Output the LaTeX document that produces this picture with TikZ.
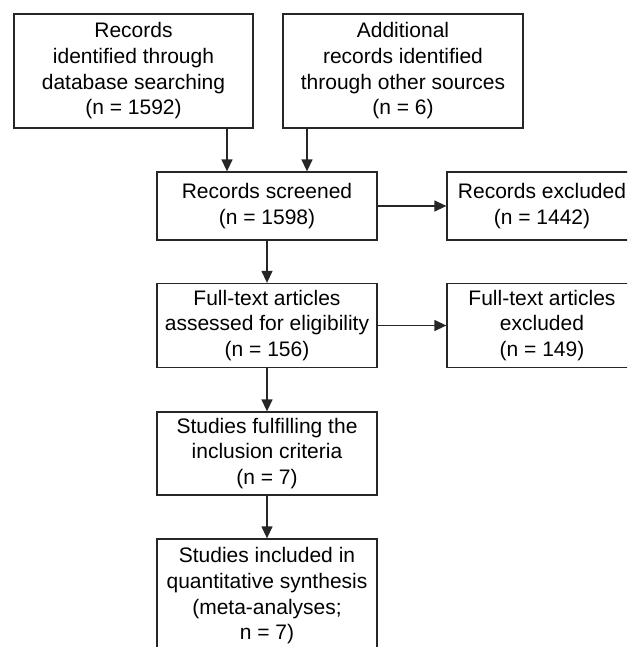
\documentclass[tikz,border=0pt]{standalone}
\usepackage{fontspec}
\setmainfont{Liberation Sans}
\usetikzlibrary{arrows.meta}

\begin{document}
\begin{tikzpicture}[x=0.5pt, y=-0.5pt,
    box/.style={draw=black!85, line width=0.65pt, align=center, inner sep=0pt,
        font=\fontsize{10.5}{12.85}\selectfont},
    arr/.style={draw=black!85, line width=0.65pt, -{Triangle[length=6pt,width=5.5pt]}}]
    \useasboundingbox (0,0) rectangle (627,647);
    \clip (0,0) rectangle (627,647);
    % identification
    \node[box, minimum width=119.5pt, minimum height=57pt] (recdb) at (133.5,71)
        {Records\\identified through\\database searching\\(n = 1592)};
    \node[box, minimum width=120pt, minimum height=57pt] (recother) at (403,71)
        {Additional\\records identified\\through other sources\\(n = 6)};
    % screening
    \node[box, minimum width=110pt, minimum height=34pt] (screened) at (267,206)
        {Records screened\\(n = 1598)};
    \node[box, minimum width=95pt, minimum height=34pt] (recexcl) at (542,206)
        {Records excluded\\(n = 1442)};
    % eligibility
    \node[box, minimum width=110pt, minimum height=42pt] (fulltext) at (267,325.5)
        {Full-text articles\\assessed for eligibility\\(n = 156)};
    \node[box, minimum width=95pt, minimum height=42pt] (ftexcl) at (542,325.5)
        {Full-text articles\\excluded\\(n = 149)};
    % included
    \node[box, minimum width=110pt, minimum height=41.5pt] (fulfil) at (267,453.5)
        {Studies fulfilling the\\inclusion criteria\\(n = 7)};
    \node[box, minimum width=110pt, minimum height=57pt] (included) at (267,596)
        {Studies included in\\quantitative synthesis\\(meta-analyses;\\n = 7)};
    % connectors
    \coordinate (c1) at (227,0);
    \coordinate (c2) at (307,0);
    \draw[arr] (recdb.south -| c1) -- (screened.north -| c1);
    \draw[arr] (recother.south -| c2) -- (screened.north -| c2);
    \draw[arr] (screened) -- (recexcl);
    \draw[arr] (screened) -- (fulltext);
    \draw[arr] (fulltext) -- (ftexcl);
    \draw[arr] (fulltext) -- (fulfil);
    \draw[arr] (fulfil) -- (included);
\end{tikzpicture}
\end{document}
